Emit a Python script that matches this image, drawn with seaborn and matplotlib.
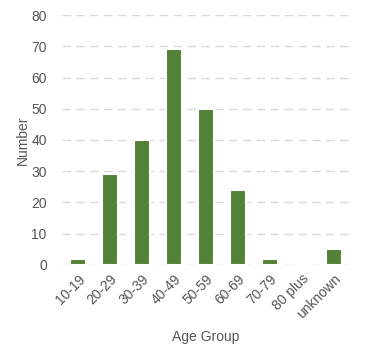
import matplotlib
matplotlib.use('Agg')
import matplotlib.pyplot as plt
import seaborn as sns
import pandas as pd

age_groups = ['10-19', '20-29', '30-39', '40-49', '50-59', '60-69', '70-79', '80 plus', 'unknown']
counts = [2, 29, 40, 69, 50, 24, 2, 0, 5]

df = pd.DataFrame({'Age Group': age_groups, 'Number': counts})

sns.set_style('white')
plt.rcParams['font.family'] = ['Liberation Sans', 'DejaVu Sans']

fig = plt.figure(figsize=(3.65, 3.58), dpi=100)
ax = fig.add_axes([0.17, 0.26, 0.789, 0.698])

sns.barplot(data=df, x='Age Group', y='Number', color='#538135', saturation=1,
            width=0.5, edgecolor='white', linewidth=1.5, ax=ax, zorder=3)

ax.set_ylim(0, 80)
ax.set_xlim(-0.5, len(age_groups) - 0.5)
ax.set_yticks(range(0, 81, 10))
ax.yaxis.grid(True, color='#d9d9d9', linestyle=(0, (6, 4)), linewidth=1, zorder=0)
ax.xaxis.grid(False)
for s in ax.spines.values():
    s.set_visible(False)

ax.tick_params(axis='both', length=0, labelsize=10, labelcolor='#555555')
ax.tick_params(axis='y', pad=11)
ax.tick_params(axis='x', pad=5)
plt.setp(ax.get_xticklabels(), rotation=45, ha='right', rotation_mode='anchor')

ax.set_xlabel('Age Group', fontsize=10, color='#555555', labelpad=6)
ax.set_ylabel('Number', fontsize=10, color='#555555', labelpad=1)

fig.savefig('out.png', dpi=100)
